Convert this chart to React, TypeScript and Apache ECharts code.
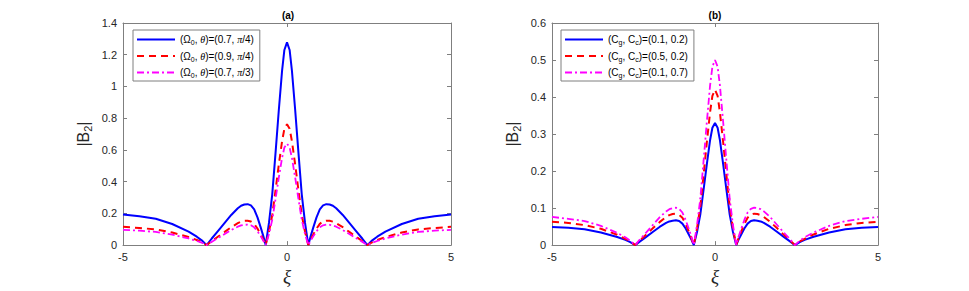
import React, { useEffect, useRef } from 'react';
import * as echarts from 'echarts';

// xi sample positions
const xi = [
  -5, -4.5, -4, -3.5, -3, -2.75, -2.6, -2.45, -2.3, -2.1, -1.9, -1.7, -1.5, -1.4, -1.3, -1.2, -1.1, -1.0, -0.9, -0.8,
  -0.72, -0.65, -0.55, -0.45, -0.35, -0.25, -0.15, -0.08, 0,
  0.08, 0.15, 0.25, 0.35, 0.45, 0.55, 0.65, 0.72, 0.8, 0.9, 1.0, 1.1, 1.2, 1.3, 1.4, 1.5, 1.7, 1.9, 2.1, 2.3, 2.45,
  2.6, 2.75, 3, 3.5, 4, 4.5, 5,
];

// panel (a)
const blueA = [
  0.193, 0.182, 0.166, 0.133, 0.085, 0.053, 0.03, 0, 0.04, 0.09, 0.14, 0.19, 0.232, 0.248, 0.256, 0.258, 0.25, 0.225, 0.175, 0.11,
  0.055, 0, 0.14, 0.32, 0.58, 0.85, 1.1, 1.23, 1.278,
  1.23, 1.1, 0.85, 0.58, 0.32, 0.14, 0, 0.055, 0.11, 0.175, 0.225, 0.25, 0.258, 0.256, 0.248, 0.232, 0.19, 0.14, 0.09, 0.04, 0,
  0.03, 0.053, 0.085, 0.133, 0.166, 0.182, 0.193,
];
const redA = [
  0.115, 0.108, 0.099, 0.079, 0.051, 0.032, 0.018, 0, 0.024, 0.054, 0.083, 0.113, 0.138, 0.148, 0.153, 0.154, 0.149, 0.134, 0.104, 0.066,
  0.033, 0, 0.083, 0.19, 0.345, 0.507, 0.655, 0.733, 0.762,
  0.733, 0.655, 0.507, 0.345, 0.19, 0.083, 0, 0.033, 0.066, 0.104, 0.134, 0.149, 0.154, 0.153, 0.148, 0.138, 0.113, 0.083, 0.054, 0.024, 0,
  0.018, 0.032, 0.051, 0.079, 0.099, 0.108, 0.115,
];
const magentaA = [
  0.096, 0.091, 0.083, 0.066, 0.042, 0.026, 0.015, 0, 0.02, 0.045, 0.07, 0.095, 0.116, 0.124, 0.128, 0.129, 0.125, 0.112, 0.087, 0.055,
  0.027, 0, 0.07, 0.16, 0.29, 0.425, 0.55, 0.615, 0.64,
  0.615, 0.55, 0.425, 0.29, 0.16, 0.07, 0, 0.027, 0.055, 0.087, 0.112, 0.125, 0.129, 0.128, 0.124, 0.116, 0.095, 0.07, 0.045, 0.02, 0,
  0.015, 0.026, 0.042, 0.066, 0.083, 0.091, 0.096,
];

// panel (b)
const blueB = [
  0.049, 0.047, 0.043, 0.034, 0.022, 0.014, 0.008, 0, 0.01, 0.023, 0.036, 0.049, 0.06, 0.064, 0.066, 0.067, 0.065, 0.058, 0.045, 0.028,
  0.014, 0, 0.036, 0.083, 0.15, 0.219, 0.284, 0.317, 0.33,
  0.317, 0.284, 0.219, 0.15, 0.083, 0.036, 0, 0.014, 0.028, 0.045, 0.058, 0.065, 0.067, 0.066, 0.064, 0.06, 0.049, 0.036, 0.023, 0.01, 0,
  0.008, 0.014, 0.022, 0.034, 0.043, 0.047, 0.049,
];
const redB = [
  0.063, 0.06, 0.054, 0.044, 0.028, 0.017, 0.01, 0, 0.013, 0.029, 0.046, 0.062, 0.076, 0.081, 0.084, 0.085, 0.082, 0.074, 0.057, 0.036,
  0.018, 0, 0.046, 0.105, 0.19, 0.278, 0.36, 0.403, 0.42,
  0.403, 0.36, 0.278, 0.19, 0.105, 0.046, 0, 0.018, 0.036, 0.057, 0.074, 0.082, 0.085, 0.084, 0.081, 0.076, 0.062, 0.046, 0.029, 0.013, 0,
  0.01, 0.017, 0.028, 0.044, 0.054, 0.06, 0.063,
];
const magentaB = [
  0.076, 0.071, 0.065, 0.052, 0.033, 0.021, 0.012, 0, 0.016, 0.035, 0.055, 0.075, 0.091, 0.097, 0.1, 0.101, 0.098, 0.088, 0.068, 0.043,
  0.022, 0, 0.055, 0.126, 0.228, 0.333, 0.432, 0.482, 0.5,
  0.482, 0.432, 0.333, 0.228, 0.126, 0.055, 0, 0.022, 0.043, 0.068, 0.088, 0.098, 0.101, 0.1, 0.097, 0.091, 0.075, 0.055, 0.035, 0.016, 0,
  0.012, 0.021, 0.033, 0.052, 0.065, 0.071, 0.076,
];

const namesA = ['(Ω0, θ)=(0.7, π/4)', '(Ω0, θ)=(0.9, π/4)', '(Ω0, θ)=(0.7, π/3)'];
const namesB = ['(Cg, Cc)=(0.1, 0.2)', '(Cg, Cc)=(0.5, 0.2)', '(Cg, Cc)=(0.1, 0.7)'];
const richLabels: Record<string, string> = {
  [namesA[0]]: '(Ω{s|0}, {i|θ})=(0.7, {i|π}/4)',
  [namesA[1]]: '(Ω{s|0}, {i|θ})=(0.9, {i|π}/4)',
  [namesA[2]]: '(Ω{s|0}, {i|θ})=(0.7, {i|π}/3)',
  [namesB[0]]: '(C{s|g}, C{s|c})=(0.1, 0.2)',
  [namesB[1]]: '(C{s|g}, C{s|c})=(0.5, 0.2)',
  [namesB[2]]: '(C{s|g}, C{s|c})=(0.1, 0.7)',
};

const titles = ['(a)', '(b)'];
const xTicks = { min: -5, max: 5, interval: 5 };
const yRangeA = { min: 0, max: 1.4, interval: 0.2 };
const yRangeB = { min: 0, max: 0.6, interval: 0.1 };

const FONT = '"Liberation Sans", Arial, Helvetica, sans-serif';
const AXIS_COLOR = '#7f7f7f';
const LABEL_COLOR = '#262626';

const colors = ['#0000ff', '#ff0000', '#ff00ff'];
const lineTypes: any[] = ['solid', [7, 5], [7, 3, 2, 3]];
const widths = [2, 2, 1.8];

function pairs(ys: number[]) {
  return xi.map((x, i) => [x, ys[i]]);
}

function axisPair(gridIndex: number, range: any) {
  const line = { show: true, onZero: false, lineStyle: { color: AXIS_COLOR, width: 1 } };
  const tick = { show: true, inside: true, length: 4, lineStyle: { color: AXIS_COLOR, width: 1 } };
  const xs = [
    {
      type: 'value', gridIndex, position: 'bottom', ...xTicks,
      axisLine: line, axisTick: tick, splitLine: { show: false },
      axisLabel: { color: LABEL_COLOR, fontSize: 11, fontFamily: FONT, margin: 6 },
      name: 'ξ', nameLocation: 'middle', nameGap: 17,
      nameTextStyle: { fontSize: 19, fontStyle: 'italic', fontFamily: '"Liberation Serif", "DejaVu Serif", serif', color: LABEL_COLOR },
    },
    {
      type: 'value', gridIndex, position: 'top', ...xTicks,
      axisLine: line, axisTick: tick, splitLine: { show: false }, axisLabel: { show: false },
    },
  ];
  const ys = [
    {
      type: 'value', gridIndex, position: 'left', ...range,
      axisLine: line, axisTick: tick, splitLine: { show: false },
      axisLabel: { color: LABEL_COLOR, fontSize: 11, fontFamily: FONT, margin: 6 },
      name: '|B{s|2}|', nameLocation: 'middle', nameGap: 30, nameRotate: 90,
      nameTextStyle: {
        fontSize: 16, fontFamily: FONT, color: LABEL_COLOR, lineHeight: 20,
        rich: { s: { fontSize: 11, fontFamily: FONT, color: LABEL_COLOR, lineHeight: 11, verticalAlign: 'bottom' } },
      },
    },
    {
      type: 'value', gridIndex, position: 'right', ...range,
      axisLine: line, axisTick: tick, splitLine: { show: false }, axisLabel: { show: false },
    },
  ];
  return { xs, ys };
}

function legendFor(names: string[], left: number) {
  return {
    data: names,
    orient: 'vertical',
    left,
    top: 30,
    itemWidth: 38,
    itemHeight: 14,
    itemGap: 3.5,
    padding: [3, 6, 2, 3],
    borderColor: AXIS_COLOR,
    borderWidth: 1,
    backgroundColor: '#ffffff',
    itemStyle: { opacity: 0, borderWidth: 0 },
    formatter: (n: string) => richLabels[n] || n,
    textStyle: {
      fontSize: 10, fontFamily: FONT, color: '#000', lineHeight: 13,
      rich: {
        s: { fontSize: 7, fontFamily: FONT, color: '#000', lineHeight: 7, verticalAlign: 'bottom' },
        i: { fontSize: 10, fontStyle: 'italic', fontFamily: '"Liberation Serif", serif', color: '#000', lineHeight: 13 },
      },
    },
  };
}

export default function App() {
  const ref = useRef<HTMLDivElement>(null);
  useEffect(() => {
    if (!ref.current) return;
    const chart = echarts.init(ref.current, undefined, { renderer: 'svg' });
    const a = axisPair(0, yRangeA);
    const b = axisPair(1, yRangeB);
    const seriesA = [blueA, redA, magentaA].map((ys, k) => ({
      type: 'line', name: namesA[k], xAxisIndex: 0, yAxisIndex: 0, data: pairs(ys),
      symbol: 'none', showSymbol: false, smooth: false,
      lineStyle: { color: colors[k], width: widths[k], type: lineTypes[k] },
      itemStyle: { color: colors[k] },
    }));
    const seriesB = [blueB, redB, magentaB].map((ys, k) => ({
      type: 'line', name: namesB[k], xAxisIndex: 2, yAxisIndex: 2, data: pairs(ys),
      symbol: 'none', showSymbol: false, smooth: false,
      lineStyle: { color: colors[k], width: widths[k], type: lineTypes[k] },
      itemStyle: { color: colors[k] },
    }));
    chart.setOption({
      animation: false,
      backgroundColor: '#ffffff',
      grid: [
        { left: 123, top: 23, width: 328, height: 229, containLabel: false },
        { left: 552, top: 23, width: 326, height: 229, containLabel: false },
      ],
      xAxis: [...a.xs, ...b.xs],
      yAxis: [...a.ys, ...b.ys],
      legend: [legendFor(namesA, 133), legendFor(namesB, 561)],
      graphic: [
        { type: 'text', x: 288, y: 15, style: { text: titles[0], fontSize: 10, fontWeight: 'bold', fontFamily: FONT, fill: '#000', align: 'center', verticalAlign: 'middle', textAlign: 'center', textVerticalAlign: 'middle' } },
        { type: 'text', x: 715, y: 15, style: { text: titles[1], fontSize: 10, fontWeight: 'bold', fontFamily: FONT, fill: '#000', align: 'center', verticalAlign: 'middle', textAlign: 'center', textVerticalAlign: 'middle' } },
      ],
      series: [...seriesA, ...seriesB],
    });
    return () => chart.dispose();
  }, []);
  return <div ref={ref} style={{ position: 'absolute', left: 0, top: 0, width: 969, height: 291, background: '#fff' }} />;
}
